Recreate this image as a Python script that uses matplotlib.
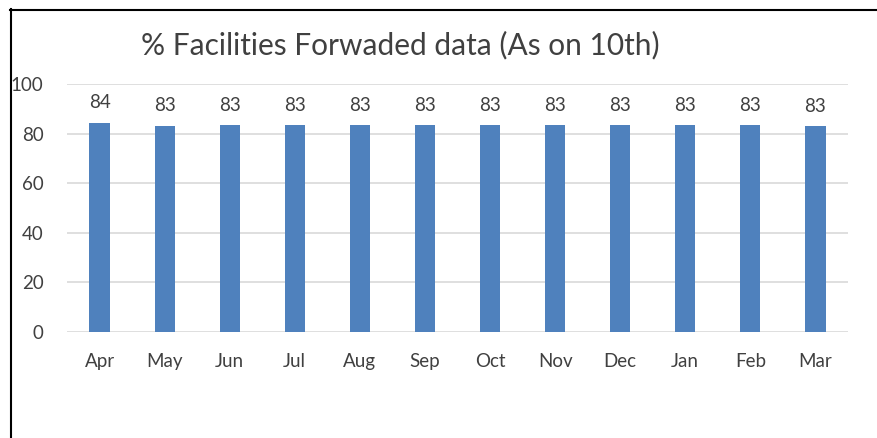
import numpy as np
import matplotlib.pyplot as plt
from matplotlib.lines import Line2D

months = ["Apr", "May", "Jun", "Jul", "Aug", "Sep", "Oct", "Nov", "Dec", "Jan", "Feb", "Mar"]
values = [84.4, 83.2, 83.4, 83.4, 83.4, 83.4, 83.4, 83.4, 83.4, 83.4, 83.4, 82.9]
yticks = [0, 20, 40, 60, 80, 100]

plt.rcParams['font.family'] = ['Lato', 'DejaVu Sans']
text_color = "#404040"

fig = plt.figure(figsize=(8.77, 4.38), dpi=100)
ax = fig.add_axes([67 / 877, 1 - 332 / 438, (848 - 67) / 877, (332 - 84) / 438])

x = np.arange(len(months))
bars = ax.bar(x, values, width=0.31, color="#4F81BD", zorder=3)
for xi, v in zip(x, values):
    ax.text(xi, v + 4.6, f"{v:.0f}", ha="center", va="bottom", fontsize=13.5, color=text_color)

ax.set_xlim(-0.5, len(months) - 0.5)
ax.set_ylim(0, 100)
ax.set_yticks(yticks)
ax.set_xticks(x)
ax.set_xticklabels(months)
ax.tick_params(axis="both", length=0, labelsize=13.5, colors=text_color)
ax.tick_params(axis="x", pad=15)
ax.tick_params(axis="y", pad=17)
ax.grid(axis="y", color="#D9D9D9", linewidth=1.2, zorder=0)
for s in ax.spines.values():
    s.set_visible(False)

fig.text(400 / 877, 1 - 45 / 438, "% Facilities Forwaded data (As on 10th)",
         ha="center", va="center", fontsize=21.5, color=text_color)

# outer frame lines (left and top only)
fig.add_artist(Line2D([10.5 / 877, 10.5 / 877], [0, 1 - 9 / 438], color="black", linewidth=1.5))
fig.add_artist(Line2D([10 / 877, 1], [1 - 9.5 / 438, 1 - 9.5 / 438], color="black", linewidth=1.5))

fig.savefig("out.png", dpi=100)
